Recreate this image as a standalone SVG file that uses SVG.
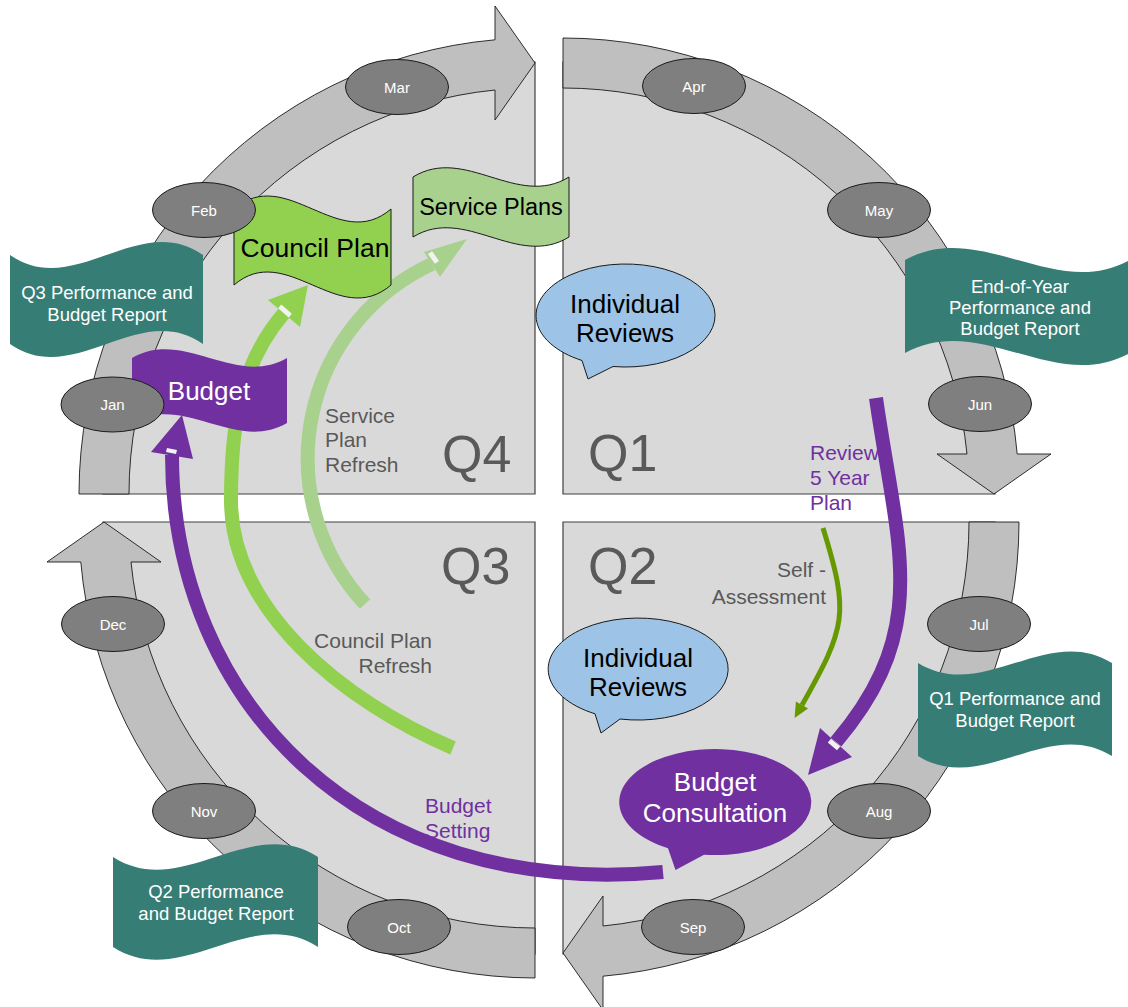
<svg xmlns="http://www.w3.org/2000/svg" xmlns:xlink="http://www.w3.org/1999/xlink" width="1128" height="1007" viewBox="0 0 1128 1007">
<defs>
<style>
.quad{fill:#d9d9d9;stroke:#404040;stroke-width:1.2}
.cyc{fill:#bfbfbf;stroke:#1a1a1a;stroke-width:0.9}
.mon ellipse{fill:#7f7f7f;stroke:#1a1a1a;stroke-width:1}
.mon text{fill:#fff;font-family:"Liberation Sans",Arial,sans-serif;font-size:15px;text-anchor:middle}
.ql{fill:#595959;font-family:"Liberation Sans",Arial,sans-serif;font-size:52px}
.teal path{fill:#367d76}
.teal text{fill:#fff;font-family:"Liberation Sans",Arial,sans-serif;font-size:18.5px;text-anchor:middle}
.big{font-family:"Liberation Sans",Arial,sans-serif;font-size:26px;text-anchor:middle}
.lbl{font-family:"Liberation Sans",Arial,sans-serif;font-size:21px;fill:#595959}
.pl{fill:#7030a0}
.bub{fill:#9dc3e6;stroke:#1a1a1a;stroke-width:1}
.arc{fill:none;stroke-linecap:butt}
.notch{fill:#f2f2f2}
</style>
<path id="pie" d="M0,0 L-432,0 A432,432 0 0 1 0,-432 Z"/>
<path id="cycArrow" d="M-456,0 A456,456 0 0 1 -40,-454.2 L-40,-488 L0,-431 L-40,-374 L-40,-404 A406,406 0 0 0 -406,0 Z"/>
</defs>
<rect width="1128" height="1007" fill="#fff"/>

<g id="quadrants">
<use xlink:href="#pie" class="quad" transform="translate(535,494)"/>
<use xlink:href="#pie" class="quad" transform="translate(563,494) rotate(90)"/>
<use xlink:href="#pie" class="quad" transform="translate(563,522) rotate(180)"/>
<use xlink:href="#pie" class="quad" transform="translate(535,522) rotate(270)"/>
</g>

<g id="cycle-arrows">
<use xlink:href="#cycArrow" class="cyc" transform="translate(535,494)"/>
<use xlink:href="#cycArrow" class="cyc" transform="translate(563,494) rotate(90)"/>
<use xlink:href="#cycArrow" class="cyc" transform="translate(563,522) rotate(180)"/>
<use xlink:href="#cycArrow" class="cyc" transform="translate(535,522) rotate(270)"/>
</g>

<g id="quarter-labels">
<text class="ql" x="442" y="472">Q4</text>
<text class="ql" x="588" y="471">Q1</text>
<text class="ql" x="441" y="584">Q3</text>
<text class="ql" x="588" y="584">Q2</text>
</g>

<g id="connectors">
<path class="arc" d="M663,872 C360,900 172,700 172,455" stroke="#7030a0" stroke-width="14"/>
<polygon points="182,415 151,452 193,459" fill="#7030a0"/>
<polygon class="notch" points="167,448 177,450 176,454 166,452"/>

<path class="arc" d="M453,748 C342.6,701.2 231,610 231,500 C231,430 238.4,366.1 284,313" stroke="#92d050" stroke-width="14"/>
<polygon points="308,285 268,300 300,327" fill="#92d050"/>
<polygon class="notch" points="291.9,313.7 288.7,317.5 278.1,308.3 281.3,304.5"/>

<path class="arc" d="M365,604 A214,214 0 0 1 432,264" stroke="#a9d18e" stroke-width="14"/>
<polygon points="467,239 424,252 440,277" fill="#a9d18e"/>
<polygon class="notch" points="439,260.9 434.9,263.8 428,254.1 432.1,251.2"/>

<path class="arc" d="M876,398 C897,546 933,628 836,742" stroke="#7030a0" stroke-width="14"/>
<polygon points="808,775 820,728 852,757" fill="#7030a0"/>
<polygon class="notch" points="840.2,746.5 837,750.3 827.8,742.5 831,738.7"/>

<path class="arc" d="M823,528 C849.6,614 846.1,626.7 802,705" stroke="#669900" stroke-width="5"/>
<polygon points="794.6,718 808.1,708.4 795.9,701.6" fill="#669900"/>
</g>

<g id="text-labels">
<text class="lbl" x="325" y="423">Service</text>
<text class="lbl" x="325" y="447">Plan</text>
<text class="lbl" x="325" y="472">Refresh</text>
<text class="lbl" x="432" y="648" text-anchor="end">Council Plan</text>
<text class="lbl" x="432" y="673" text-anchor="end">Refresh</text>
<text class="lbl" x="826" y="577" text-anchor="end">Self -</text>
<text class="lbl" x="826" y="604" text-anchor="end">Assessment</text>
<text class="lbl pl" x="810" y="460">Review</text>
<text class="lbl pl" x="810" y="485">5 Year</text>
<text class="lbl pl" x="810" y="510">Plan</text>
<text class="lbl pl" x="425" y="813">Budget</text>
<text class="lbl pl" x="425" y="838">Setting</text>
</g>

<g id="flag-q3-report" class="teal">
<path d="M10,255 C74.3,300 138.7,210 203,255 L203,344 C138.7,299 74.3,389 10,344 Z"/>
<text x="107" y="299">Q3 Performance and</text>
<text x="107" y="321">Budget Report</text>
</g>
<g id="flag-eoy-report" class="teal">
<path d="M905,260 C980,218 1055,302 1130,260 L1130,353 C1055,395 980,311 905,353 Z"/>
<text x="1020" y="293">End-of-Year</text>
<text x="1020" y="314">Performance and</text>
<text x="1020" y="335">Budget Report</text>
</g>
<g id="flag-q1-report" class="teal">
<path d="M918,663 C982.7,703 1047.3,623 1112,663 L1112,756 C1047.3,716 982.7,796 918,756 Z"/>
<text x="1015" y="705">Q1 Performance and</text>
<text x="1015" y="727">Budget Report</text>
</g>
<g id="flag-q2-report" class="teal">
<path d="M113,857 C181.3,901 249.7,813 318,857 L318,947 C249.7,903 181.3,991 113,947 Z"/>
<text x="216" y="898">Q2 Performance</text>
<text x="216" y="920">and Budget Report</text>
</g>

<g id="flag-budget">
<path d="M132,358 C183.7,328 235.3,388 287,358 L287,423 C235.3,453 183.7,393 132,423 Z" fill="#7030a0"/>
<text class="big" x="209" y="400" fill="#fff">Budget</text>
</g>
<g id="flag-council-plan">
<path d="M234,209 C286.3,164 338.7,254 391,209 L391,285 C338.7,330 286.3,240 234,285 Z" fill="#92d050" stroke="#1a1a1a" stroke-width="1"/>
<text class="big" x="315" y="257" fill="#000" style="font-size:26.5px">Council Plan</text>
</g>
<g id="flag-service-plans">
<path d="M413,177 C465,145 517,209 569,177 L569,237 C517,269 465,205 413,237 Z" fill="#a9d18e" stroke="#1a1a1a" stroke-width="1"/>
<text class="big" x="491" y="215" fill="#000" style="font-size:23.5px">Service Plans</text>
</g>

<g id="bubble-reviews-q1">
<path class="bub" d="M613,366.5 A89.5,51.5 0 1 0 582,360.5 L588,379 Z"/>
<text class="big" x="625" y="313" fill="#000">Individual</text>
<text class="big" x="625" y="342" fill="#000">Reviews</text>
</g>
<g id="bubble-reviews-q2">
<path class="bub" d="M620,719 A90,51 0 1 0 595,713.8 L601,733 Z"/>
<text class="big" x="638" y="667" fill="#000">Individual</text>
<text class="big" x="638" y="696" fill="#000">Reviews</text>
</g>
<g id="bubble-budget-consultation">
<path d="M704,854.7 A96,53 0 1 0 668,848.2 L675.5,870 Z" fill="#7030a0"/>
<text class="big" x="715" y="791" fill="#fff">Budget</text>
<text class="big" x="715" y="822" fill="#fff">Consultation</text>
</g>

<g id="months">
<g id="m-jan" class="mon"><ellipse cx="112.5" cy="404.5" rx="51.5" ry="27.5"/><text x="112.5" y="410">Jan</text></g>
<g id="m-feb" class="mon"><ellipse cx="204" cy="210" rx="51.5" ry="27.5"/><text x="204" y="215.5">Feb</text></g>
<g id="m-mar" class="mon"><ellipse cx="397" cy="87" rx="51.5" ry="27.5"/><text x="397" y="92.5">Mar</text></g>
<g id="m-apr" class="mon"><ellipse cx="694" cy="86" rx="51.5" ry="27.5"/><text x="694" y="91.5">Apr</text></g>
<g id="m-may" class="mon"><ellipse cx="879" cy="210" rx="51.5" ry="27.5"/><text x="879" y="215.5">May</text></g>
<g id="m-jun" class="mon"><ellipse cx="980" cy="404" rx="51.5" ry="27.5"/><text x="980" y="409.5">Jun</text></g>
<g id="m-jul" class="mon"><ellipse cx="979" cy="624" rx="51.5" ry="27.5"/><text x="979" y="629.5">Jul</text></g>
<g id="m-aug" class="mon"><ellipse cx="879" cy="811" rx="51.5" ry="27.5"/><text x="879" y="816.5">Aug</text></g>
<g id="m-sep" class="mon"><ellipse cx="693" cy="927" rx="51.5" ry="27.5"/><text x="693" y="932.5">Sep</text></g>
<g id="m-oct" class="mon"><ellipse cx="399" cy="927" rx="51.5" ry="27.5"/><text x="399" y="932.5">Oct</text></g>
<g id="m-nov" class="mon"><ellipse cx="204" cy="811" rx="51.5" ry="27.5"/><text x="204" y="816.5">Nov</text></g>
<g id="m-dec" class="mon"><ellipse cx="113" cy="624" rx="51.5" ry="27.5"/><text x="113" y="629.5">Dec</text></g>
</g>
</svg>
